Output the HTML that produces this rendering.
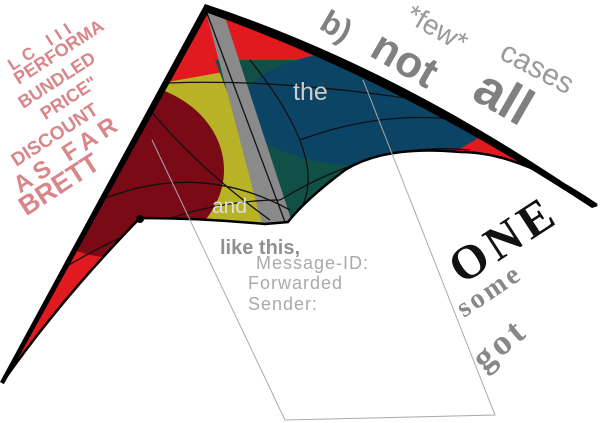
<!DOCTYPE html>
<html><head><meta charset="utf-8"><style>
html,body{margin:0;padding:0;background:#fff;width:600px;height:423px;overflow:hidden}
svg{display:block}
</style></head><body>
<svg width="600" height="423" viewBox="0 0 600 423">
<defs>
<clipPath id="sail"><path d="M205,6 Q400,70 597,205 Q520,152 460,152 Q385,145 345,170 Q305,200 288,222 L265,224 Q200,218 140,218 Q60,300 2,383 Z"/></clipPath>
</defs>
<g clip-path="url(#sail)">
<rect x="0" y="0" width="600" height="423" fill="#e01a1e"/>
<path d="M150,85 L235,70 L275,225 L130,225 Z" fill="#b8b226"/>
<ellipse cx="118" cy="170" rx="106" ry="88" fill="#7a0a16"/>
<path d="M215,60 L330,60 L380,200 L280,230 Z" fill="#115047"/>
<ellipse cx="368" cy="108" rx="128" ry="58" fill="#0c4466"/>
<path d="M205,8 L222,8 L292,222 L262,224 Z" fill="#8a8a8a"/>
<g stroke="#111" stroke-width="1.3" fill="none">
<path d="M205,8 L285,222"/>
<path d="M40,100 Q200,60 480,110"/>
<path d="M60,220 Q180,150 290,210"/>
<path d="M30,290 Q160,200 280,200"/>
<path d="M150,110 Q200,170 270,220"/>
<path d="M280,200 Q380,140 470,150"/>
<path d="M300,140 Q380,110 460,120"/>
<path d="M250,60 Q330,160 300,210"/>
</g>
</g>
<path d="M205,4 Q400,68 598,206 L592,208 Q400,82 208,13 L4,384 L0,382 Z" fill="#000"/>
<path d="M2,383 Q60,300 140,218 Q200,218 265,224 L288,222 Q305,200 345,170 Q385,145 460,152 Q520,152 597,205" fill="none" stroke="#000" stroke-width="2.5"/>
<circle cx="140" cy="219" r="4" fill="#000"/>
<path d="M152,140 L285,420 L495,415 L363,80" fill="none" stroke="#aaa" stroke-width="1"/>
<g font-family="Liberation Sans, sans-serif" font-weight="bold" fill="#d9868a" text-anchor="middle">
<text x="45" y="50" font-size="17" transform="rotate(-33 45 50)" letter-spacing="6">LC III</text>
<text x="62" y="57" font-size="18" transform="rotate(-33 62 57)">PERFORMA</text>
<text x="60" y="85" font-size="18" transform="rotate(-33 60 85)">BUNDLED</text>
<text x="72" y="103" font-size="18" transform="rotate(-33 72 103)">PRICE"</text>
<text x="58" y="140" font-size="19" transform="rotate(-33 58 140)">DISCOUNT</text>
<text x="72" y="160" font-size="24" transform="rotate(-33 72 160)" letter-spacing="6">AS FAR</text>
<text x="64" y="192" font-size="27" transform="rotate(-33 64 192)">BRETT</text>
</g>
<g font-family="Liberation Sans, sans-serif" font-weight="bold" fill="#808080">
<text x="318" y="28" font-size="32" transform="rotate(30 318 28)">b)</text>
<text x="368" y="55" font-size="44" transform="rotate(30 368 55)">not</text>
<text x="470" y="98" font-size="52" transform="rotate(30 470 98)">all</text>
</g>
<g font-family="Liberation Sans, sans-serif" fill="#9a9a9a">
<text x="404" y="20" font-size="28" transform="rotate(30 404 20)">*few*</text>
<text x="498" y="58" font-size="30" transform="rotate(28 498 58)">cases</text>
</g>
<text x="293" y="100" font-family="Liberation Sans, sans-serif" font-size="25" fill="#ccc">the</text>
<text x="212" y="213" font-family="Liberation Sans, sans-serif" font-size="21" fill="#ddd">and</text>
<text x="220" y="254" font-family="Liberation Sans, sans-serif" font-weight="bold" font-size="20" fill="#909090">like this,</text>
<g font-family="Liberation Sans, sans-serif" font-size="18" fill="#aaa" letter-spacing="1">
<text x="256" y="269">Message-ID:</text>
<text x="248" y="289">Forwarded</text>
<text x="248" y="310">Sender:</text>
</g>
<g font-family="Liberation Serif, serif" font-weight="bold">
<text x="462" y="285" font-size="48" fill="#111" transform="rotate(-33 462 285)" letter-spacing="5">ONE</text>
<text x="464" y="318" font-size="28" fill="#888" transform="rotate(-34 464 318)" letter-spacing="3">some</text>
<text x="484" y="372" font-size="36" fill="#888" transform="rotate(-40 484 372)" letter-spacing="4">got</text>
</g>
</svg>
</body></html>
